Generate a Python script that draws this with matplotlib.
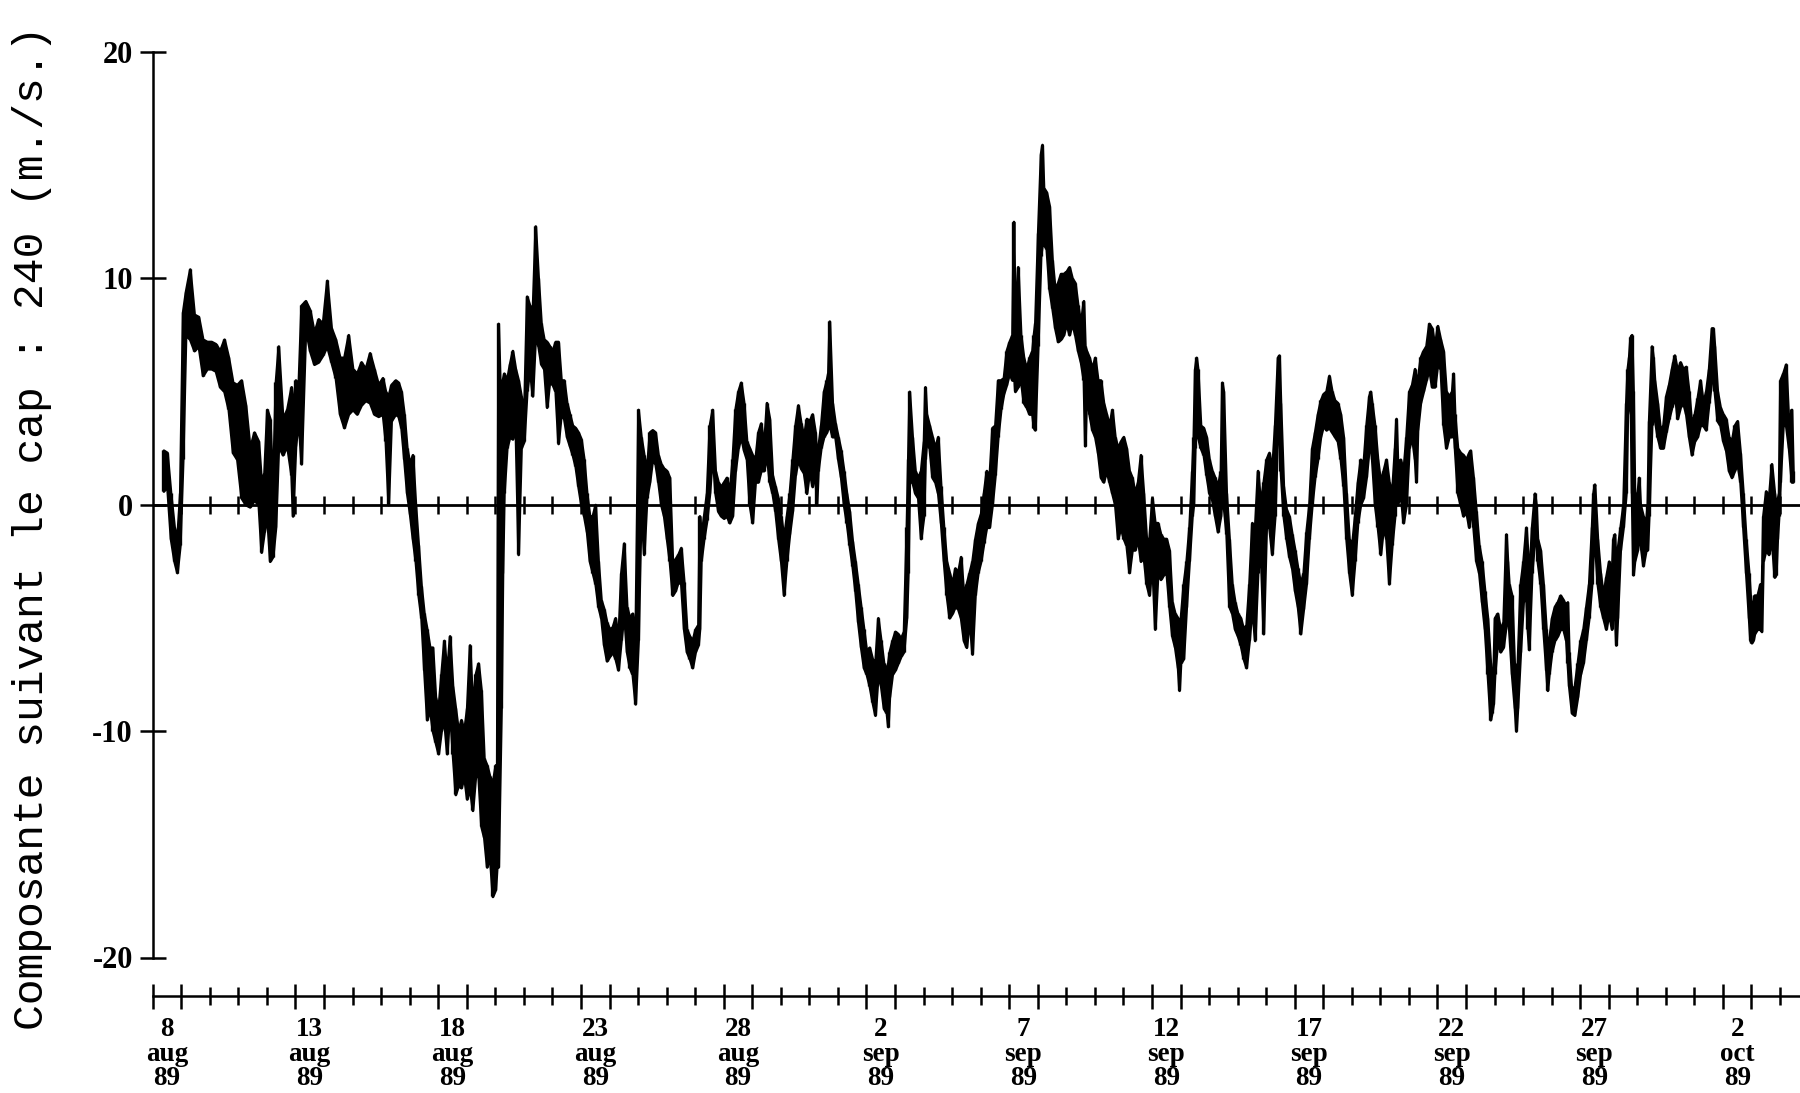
import datetime as dt
import matplotlib
matplotlib.use("Agg")
import matplotlib.pyplot as plt
from matplotlib.transforms import blended_transform_factory

# time in days since 8 aug 1989 00h, with the high / low envelope of the
# wind component (m/s)
day = [
    0.375, 0.5, 0.625, 0.75, 0.85, 0.95, 1.05, 1.15, 1.3, 1.45,
    1.6, 1.75, 1.9, 2.05, 2.2, 2.35, 2.5, 2.65, 2.8, 2.95,
    3.1, 3.25, 3.4, 3.55, 3.7, 3.8, 3.9, 4.0, 4.1, 4.2,
    4.3, 4.4, 4.55, 4.7, 4.85, 4.9, 5.0, 5.1, 5.2, 5.35,
    5.5, 5.65, 5.8, 5.95, 6.1, 6.25, 6.4, 6.55, 6.7, 6.85,
    7.0, 7.15, 7.3, 7.45, 7.6, 7.75, 7.9, 8.05, 8.15, 8.25,
    8.35, 8.5, 8.6, 8.7, 8.8, 8.9, 9.0, 9.1, 9.2, 9.3,
    9.4, 9.5, 9.6, 9.7, 9.8, 9.9, 10.0, 10.1, 10.2, 10.3,
    10.4, 10.5, 10.6, 10.7, 10.8, 10.9, 11.0, 11.1, 11.2, 11.3,
    11.4, 11.5, 11.6, 11.7, 11.8, 11.9, 12.0, 12.05, 12.1, 12.2,
    12.25, 12.3, 12.4, 12.5, 12.6, 12.7, 12.8, 12.9, 13.0, 13.1,
    13.2, 13.3, 13.4, 13.5, 13.6, 13.7, 13.8, 13.9, 14.0, 14.1,
    14.2, 14.3, 14.4, 14.5, 14.6, 14.7, 14.8, 14.9, 15.0, 15.1,
    15.2, 15.3, 15.4, 15.5, 15.6, 15.7, 15.8, 15.9, 16.0, 16.1,
    16.2, 16.3, 16.4, 16.5, 16.6, 16.7, 16.8, 16.9, 17.0, 17.1,
    17.2, 17.3, 17.4, 17.5, 17.6, 17.7, 17.8, 17.9, 18.0, 18.1,
    18.2, 18.3, 18.4, 18.5, 18.6, 18.7, 18.8, 18.9, 19.0, 19.1,
    19.15, 19.2, 19.3, 19.4, 19.5, 19.6, 19.7, 19.8, 19.9, 20.0,
    20.1, 20.2, 20.3, 20.4, 20.5, 20.6, 20.7, 20.8, 20.9, 21.0,
    21.1, 21.2, 21.3, 21.4, 21.5, 21.6, 21.7, 21.8, 21.9, 22.0,
    22.1, 22.2, 22.3, 22.4, 22.5, 22.6, 22.7, 22.8, 22.9, 23.0,
    23.1, 23.2, 23.25, 23.3, 23.4, 23.5, 23.6, 23.65, 23.7, 23.8,
    23.9, 24.0, 24.1, 24.2, 24.3, 24.4, 24.5, 24.6, 24.7, 24.8,
    24.9, 25.0, 25.1, 25.2, 25.3, 25.4, 25.5, 25.6, 25.7, 25.75,
    25.8, 25.9, 26.0, 26.1, 26.2, 26.3, 26.4, 26.45, 26.5, 26.6,
    26.7, 26.8, 26.9, 27.0, 27.05, 27.1, 27.2, 27.3, 27.4, 27.5,
    27.6, 27.7, 27.8, 27.9, 28.0, 28.1, 28.2, 28.3, 28.4, 28.5,
    28.6, 28.7, 28.8, 28.9, 29.0, 29.1, 29.2, 29.3, 29.4, 29.5,
    29.6, 29.7, 29.8, 29.9, 30.0, 30.1, 30.15, 30.2, 30.3, 30.4,
    30.5, 30.6, 30.7, 30.8, 30.85, 30.9, 31.0, 31.1, 31.15, 31.2,
    31.3, 31.4, 31.5, 31.6, 31.7, 31.8, 31.9, 32.0, 32.1, 32.2,
    32.3, 32.4, 32.5, 32.6, 32.65, 32.7, 32.8, 32.9, 33.0, 33.1,
    33.2, 33.3, 33.4, 33.5, 33.6, 33.7, 33.8, 33.9, 34.0, 34.1,
    34.2, 34.3, 34.4, 34.5, 34.6, 34.7, 34.8, 34.9, 35.0, 35.1,
    35.2, 35.3, 35.4, 35.5, 35.6, 35.7, 35.8, 35.9, 35.95, 36.0,
    36.1, 36.2, 36.3, 36.4, 36.45, 36.5, 36.55, 36.6, 36.7, 36.8,
    36.9, 37.0, 37.1, 37.2, 37.3, 37.4, 37.45, 37.5, 37.6, 37.7,
    37.8, 37.9, 38.0, 38.1, 38.2, 38.3, 38.4, 38.5, 38.6, 38.7,
    38.8, 38.9, 39.0, 39.1, 39.2, 39.3, 39.4, 39.45, 39.5, 39.6,
    39.7, 39.8, 39.9, 40.0, 40.1, 40.2, 40.3, 40.4, 40.5, 40.6,
    40.7, 40.8, 40.9, 41.0, 41.1, 41.2, 41.3, 41.4, 41.5, 41.6,
    41.7, 41.8, 41.9, 42.0, 42.1, 42.2, 42.3, 42.4, 42.5, 42.6,
    42.65, 42.7, 42.8, 42.9, 43.0, 43.1, 43.2, 43.3, 43.4, 43.5,
    43.55, 43.6, 43.7, 43.8, 43.9, 44.0, 44.1, 44.2, 44.25, 44.3,
    44.4, 44.5, 44.6, 44.7, 44.8, 44.9, 45.0, 45.1, 45.2, 45.3,
    45.4, 45.5, 45.55, 45.6, 45.7, 45.8, 45.9, 46.0, 46.1, 46.15,
    46.25, 46.35, 46.45, 46.55, 46.65, 46.75, 46.85, 46.9, 46.95, 47.0,
    47.1, 47.2, 47.3, 47.4, 47.45, 47.5, 47.6, 47.7, 47.75, 47.8,
    47.9, 48.0, 48.1, 48.15, 48.2, 48.3, 48.4, 48.45, 48.5, 48.6,
    48.7, 48.8, 48.85, 48.9, 49.0, 49.1, 49.2, 49.3, 49.4, 49.5,
    49.55, 49.6, 49.7, 49.8, 49.9, 50.0, 50.1, 50.2, 50.3, 50.4,
    50.45, 50.5, 50.6, 50.7, 50.8, 50.9, 51.0, 51.1, 51.15, 51.2,
    51.25, 51.3, 51.4, 51.5, 51.6, 51.65, 51.7, 51.75, 51.8, 51.85,
    51.9, 52.0, 52.05, 52.1, 52.2, 52.3, 52.35, 52.4, 52.5, 52.55,
    52.6, 52.7, 52.8, 52.9, 53.0, 53.1, 53.2, 53.25, 53.3, 53.4,
    53.5, 53.6, 53.7, 53.8, 53.9, 54.0, 54.1, 54.2, 54.3, 54.4,
    54.5, 54.6, 54.65, 54.7, 54.8, 54.9, 55.0, 55.1, 55.2, 55.3,
    55.4, 55.5, 55.6, 55.7, 55.8, 55.9, 55.95, 56.0, 56.05, 56.1,
    56.2, 56.3, 56.35, 56.4, 56.5, 56.6, 56.7, 56.8, 56.85, 56.9,
    56.95, 57.0, 57.1, 57.2, 57.3, 57.4, 57.45,
]
v_high = [
    2.4, 2.3, 0.5, -1.0, -1.5, 0.5, 8.5, 9.4, 10.4, 8.4,
    8.3, 7.3, 7.2, 7.2, 7.1, 6.8, 7.3, 6.5, 5.4, 5.3,
    5.5, 4.4, 2.5, 3.2, 2.8, 1.0, 1.4, 4.2, 3.8, 0.5,
    5.4, 7.0, 3.8, 4.2, 5.2, 4.0, 5.5, 5.3, 8.8, 9.0,
    8.6, 7.6, 8.2, 8.0, 9.9, 7.8, 7.3, 6.5, 6.5, 7.5,
    6.0, 5.8, 6.3, 6.0, 6.7, 6.0, 5.3, 5.6, 5.0, 4.8,
    5.3, 5.5, 5.4, 5.0, 4.0, 2.5, 1.8, 2.2, 0.0, -1.8,
    -3.6, -4.8, -5.5, -6.3, -6.3, -8.5, -9.0, -7.5, -6.0, -7.5,
    -5.8, -8.0, -9.0, -10.0, -9.5, -10.0, -9.0, -6.2, -9.0, -7.5,
    -7.0, -8.2, -11.2, -11.5, -12.0, -12.3, -11.5, -12.0, 8.0, 3.5,
    5.5, 5.8, 5.5, 6.2, 6.8, 6.0, 5.5, 4.8, 4.0, 9.2,
    8.8, 8.5, 12.3, 10.0, 8.0, 7.3, 7.2, 7.0, 6.8, 7.2,
    7.2, 5.5, 5.5, 4.5, 4.0, 3.5, 3.4, 3.2, 2.9, 2.0,
    0.5, -0.5, -0.5, 0.0, -2.5, -4.2, -4.6, -5.2, -5.5, -5.4,
    -5.0, -6.0, -3.0, -1.7, -4.5, -5.0, -4.8, -6.0, 4.2, 3.0,
    2.2, 1.5, 3.2, 3.3, 3.2, 2.2, 1.8, 1.6, 1.5, 1.2,
    -2.5, -2.4, -2.2, -1.9, -3.4, -5.5, -5.8, -6.0, -5.5, -5.3,
    -0.5, -1.5, -0.5, 0.5, 3.5, 4.2, 1.5, 1.0, 0.8, 1.0,
    1.2, 0.5, 2.0, 4.2, 5.0, 5.4, 4.5, 2.8, 2.5, 2.2,
    2.0, 3.2, 3.6, 2.5, 4.5, 3.8, 1.3, 0.8, 0.3, -0.5,
    -1.5, -0.5, 0.5, 2.0, 3.5, 4.4, 3.6, 3.0, 3.8, 3.7,
    4.0, 3.2, 2.0, 2.5, 3.5, 5.0, 5.5, 5.8, 8.1, 4.5,
    3.6, 3.0, 2.4, 1.5, 0.5, -0.3, -1.6, -2.5, -3.5, -4.5,
    -5.5, -6.5, -6.3, -6.8, -7.0, -5.0, -6.0, -7.0, -7.3, -7.0,
    -6.5, -6.0, -5.6, -5.7, -5.9, -5.6, -1.0, 2.0, 5.0, 3.0,
    1.5, 1.2, 1.5, 2.8, 5.2, 4.0, 3.5, 3.0, 2.5, 3.0,
    0.8, -1.0, -2.5, -3.0, -3.5, -2.8, -3.0, -2.3, -4.0, -3.5,
    -3.0, -2.5, -1.5, -0.8, -0.4, 0.5, 1.5, 1.2, 3.4, 3.5,
    5.5, 5.5, 5.6, 6.8, 7.2, 7.5, 12.5, 7.8, 10.5, 7.5,
    6.5, 6.0, 6.5, 6.8, 7.5, 8.0, 12.0, 15.5, 15.9, 14.0,
    13.8, 13.2, 10.8, 9.5, 9.8, 10.2, 10.2, 10.3, 10.5, 10.0,
    9.8, 8.8, 8.0, 9.0, 7.0, 6.8, 6.5, 6.0, 6.5, 5.5,
    5.5, 4.5, 4.0, 3.5, 4.2, 3.0, 2.5, 2.8, 3.0, 2.5,
    1.5, 1.2, 0.5, 1.0, 2.2, 0.5, -1.5, -1.5, 0.3, -0.8,
    -0.8, -1.3, -1.5, -1.5, -2.0, -4.3, -4.8, -5.0, -5.5, -5.0,
    -3.5, -2.5, -1.0, 1.5, 3.0, 6.0, 6.5, 6.0, 3.5, 3.4,
    3.0, 2.0, 1.5, 1.2, 0.8, 1.5, 5.4, 5.0, 0.5, -1.5,
    -3.5, -4.3, -4.8, -5.0, -5.5, -5.3, -3.5, -0.8, -1.0, 1.5,
    0.0, 1.0, 2.0, 2.3, 1.5, 3.5, 6.5, 6.6, 4.5, 0.8,
    -0.2, -0.5, -1.3, -2.0, -2.8, -3.5, -3.0, -1.2, 0.0, 2.5,
    3.2, 4.0, 4.6, 4.9, 5.0, 5.7, 5.0, 4.6, 4.5, 4.0,
    3.0, 0.5, -1.5, -1.8, -0.5, 1.0, 2.0, 1.8, 3.5, 4.8,
    5.0, 4.5, 3.5, 2.0, 1.0, 1.5, 2.0, 1.0, 0.5, 2.5,
    3.8, 1.8, 2.0, 1.5, 3.0, 5.0, 5.3, 6.0, 5.5, 5.5,
    6.5, 6.8, 7.0, 8.0, 7.8, 7.0, 7.9, 7.3, 6.8, 5.0,
    4.8, 5.0, 5.8, 4.0, 2.5, 2.3, 2.2, 2.0, 2.3, 2.4,
    1.2, -0.3, -1.8, -2.5, -3.8, -5.0, -7.0, -8.0, -7.5, -5.0,
    -4.8, -5.5, -5.2, -1.3, -2.5, -3.5, -4.0, -7.5, -8.5, -7.0,
    -3.5, -2.5, -1.0, -2.0, -3.5, -1.0, 0.5, 0.0, -1.5, -2.0,
    -3.5, -5.5, -6.5, -6.0, -5.0, -4.5, -4.3, -4.0, -4.2, -4.5,
    -4.3, -6.5, -8.3, -8.0, -7.0, -6.0, -5.5, -4.5, -3.5, -1.0,
    0.5, 0.9, -1.5, -3.0, -4.0, -3.2, -2.5, -3.0, -1.5, -1.3,
    -3.0, -2.0, -1.0, 0.0, 4.5, 6.0, 6.5, 7.4, 7.5, 5.0,
    0.5, 0.5, 1.2, 0.0, -0.5, -0.8, 0.0, 3.7, 7.0, 6.5,
    5.5, 4.5, 3.3, 3.5, 4.8, 5.3, 6.0, 6.3, 6.6, 5.9,
    6.3, 6.0, 6.1, 5.0, 3.5, 4.0, 4.7, 5.5, 4.5, 5.0,
    6.0, 7.8, 7.8, 7.0, 5.0, 4.3, 4.0, 3.8, 3.0, 2.8,
    3.5, 3.7, 2.3, 0.5, -1.5, -3.0, -4.0, -4.5, -4.5, -4.0,
    -4.0, -3.5, -3.8, -0.5, 0.6, 0.3, 1.8, 0.5, 0.0, 0.2,
    0.5, 5.5, 5.8, 6.2, 3.5, 4.2, 1.5,
]
v_low = [
    0.6, 0.8, -1.5, -2.5, -3.0, -1.8, 2.0, 7.5, 7.3, 6.8,
    7.0, 5.7, 6.0, 6.0, 5.9, 5.2, 5.0, 4.2, 2.3, 2.0,
    0.3, 0.0, -0.1, 0.2, 0.0, -2.1, -1.2, -0.5, -2.5, -2.3,
    -1.0, 2.6, 2.2, 2.6, 1.3, -0.5, 2.6, 3.8, 1.8, 7.8,
    6.8, 6.2, 6.3, 6.6, 7.0, 6.3, 5.6, 4.0, 3.4, 4.0,
    4.2, 4.0, 4.4, 4.6, 4.5, 4.0, 3.9, 4.0, 2.8, 0.0,
    3.7, 4.0, 3.9, 3.4, 2.0, 0.5, -0.4, -1.5, -2.5, -4.0,
    -5.0, -7.3, -9.5, -9.0, -10.0, -10.5, -11.0, -10.0, -9.5, -11.0,
    -9.0, -11.0, -12.8, -12.4, -12.5, -12.0, -13.0, -12.5, -13.5, -12.0,
    -12.0, -14.2, -14.7, -16.0, -15.5, -17.3, -17.0, -16.0, -16.0, -9.0,
    -3.0, 0.5, 2.5, 3.0, 2.9, 3.5, -2.2, 2.5, 2.8, 5.0,
    6.0, 4.8, 7.5, 7.0, 6.2, 6.0, 4.3, 5.5, 5.3, 5.0,
    2.7, 4.0, 3.8, 3.0, 2.6, 2.2, 1.7, 0.8, 0.0, -0.5,
    -1.2, -2.5, -3.0, -3.5, -4.5, -5.0, -6.2, -6.9, -6.7, -6.5,
    -6.8, -7.3, -6.0, -4.8, -6.5, -7.2, -7.5, -8.8, -6.0, 0.0,
    -2.2, 0.3, 1.0, 2.0, 1.8, 1.0, 0.0, -0.5, -1.5, -2.5,
    -4.0, -3.8, -3.4, -3.5, -5.5, -6.5, -6.8, -7.2, -6.5, -6.2,
    -5.5, -2.5, -1.5, -0.7, 0.5, 2.3, 0.5, -0.3, -0.5, -0.6,
    -0.5, -0.8, -0.5, 1.5, 2.5, 3.0, 2.4, 2.0, 0.0, -0.8,
    1.0, 1.0, 1.5, 1.5, 2.2, 1.0, 0.5, -0.3, -1.5, -2.5,
    -4.0, -2.5, -1.3, -0.3, 1.3, 2.0, 1.6, 1.4, 0.5, 1.5,
    0.8, 1.5, 0.0, 1.5, 2.5, 3.0, 3.2, 3.4, 3.5, 3.0,
    3.0, 2.0, 1.2, 0.0, -0.8, -1.8, -2.7, -3.8, -5.2, -6.3,
    -7.2, -7.5, -8.0, -8.7, -9.3, -7.5, -8.0, -9.0, -9.2, -9.8,
    -8.5, -7.5, -7.3, -7.0, -6.7, -6.5, -5.0, -3.0, 1.0, 1.0,
    0.5, 0.3, -1.5, -0.5, 2.0, 2.8, 2.5, 1.2, 1.0, 0.5,
    -0.8, -2.5, -4.0, -5.0, -4.8, -4.5, -4.6, -5.0, -6.0, -6.3,
    -5.0, -6.6, -4.0, -3.0, -2.5, -1.7, -1.0, -1.0, 0.0, 1.3,
    3.0, 4.2, 4.9, 5.3, 5.8, 5.5, 6.0, 5.0, 5.2, 5.5,
    4.5, 4.3, 4.0, 4.0, 3.4, 3.3, 7.0, 11.0, 11.5, 11.5,
    11.3, 9.5, 8.7, 7.8, 7.2, 7.3, 7.5, 8.0, 7.5, 8.0,
    7.5, 6.8, 6.3, 5.5, 2.6, 5.0, 4.0, 3.3, 3.0, 2.3,
    1.2, 1.0, 1.5, 1.0, 0.5, 0.0, -1.5, -1.0, -1.5, -1.8,
    -3.0, -2.0, -2.0, -1.5, -2.5, -2.3, -3.5, -4.0, -2.5, -5.5,
    -3.0, -3.3, -3.1, -3.0, -4.5, -5.8, -6.3, -7.2, -8.2, -7.0,
    -6.8, -4.5, -2.5, -0.5, 0.0, 2.5, 4.0, 3.0, 2.5, 2.2,
    1.3, 0.5, 0.2, -0.5, -1.2, -0.5, 0.5, 0.0, -1.3, -4.5,
    -4.8, -5.5, -5.8, -6.2, -6.8, -7.2, -6.0, -4.5, -6.0, -3.0,
    -2.0, -5.7, -1.0, -1.0, -2.2, -0.5, 3.5, 4.0, 1.5, -0.5,
    -1.5, -2.3, -2.8, -3.8, -4.5, -5.7, -4.6, -3.5, -1.5, 0.0,
    1.2, 2.0, 3.0, 3.5, 3.3, 3.4, 3.2, 3.0, 2.8, 2.0,
    0.8, -1.5, -3.0, -4.0, -2.5, -0.8, 0.0, 0.3, 1.2, 2.5,
    2.8, 2.0, 0.0, -1.0, -2.2, -1.0, -1.5, -3.5, -1.8, -0.5,
    0.5, 0.0, 0.5, -0.8, 0.0, 2.5, 3.0, 2.0, 1.0, 3.3,
    4.5, 5.0, 5.5, 6.0, 5.2, 5.2, 6.2, 6.0, 3.5, 2.5,
    3.0, 3.0, 3.5, 2.5, 0.5, 0.0, -0.5, -0.3, -1.0, 0.0,
    -1.0, -2.5, -3.0, -4.3, -5.5, -7.5, -9.5, -9.2, -8.8, -7.5,
    -6.0, -6.5, -6.3, -5.3, -4.5, -5.5, -7.5, -9.0, -10.0, -9.0,
    -6.5, -4.3, -4.0, -5.5, -6.4, -3.0, -1.5, -1.2, -2.5, -3.5,
    -5.5, -7.3, -8.2, -7.5, -6.5, -6.0, -5.8, -5.5, -5.5, -6.0,
    -7.0, -8.0, -9.2, -9.3, -8.5, -7.5, -7.0, -6.0, -5.0, -3.5,
    -2.0, -1.5, -3.5, -4.5, -5.0, -5.5, -4.8, -5.5, -4.5, -4.5,
    -6.2, -5.0, -2.0, -1.0, 0.5, 4.0, 4.5, 5.5, 0.5, -3.1,
    -2.5, -2.0, -1.0, -1.7, -2.7, -2.0, -2.0, -0.5, 3.5, 4.0,
    3.8, 3.0, 2.5, 2.5, 3.2, 3.8, 4.3, 4.5, 5.0, 3.8,
    4.3, 4.5, 4.0, 3.0, 2.2, 2.8, 3.0, 3.5, 3.5, 3.3,
    4.5, 5.5, 6.0, 5.0, 3.7, 3.5, 2.8, 2.4, 1.5, 1.2,
    1.5, 1.8, 1.0, -1.0, -3.0, -5.0, -6.0, -6.1, -6.0, -5.7,
    -5.5, -5.5, -5.6, -2.5, -2.0, -2.2, -1.5, -3.2, -3.1, -1.5,
    -0.5, 1.0, 3.5, 3.5, 2.5, 1.0, 1.0,
]

y_ticks = [-20, -10, 0, 10, 20]
start_date = dt.date(1989, 8, 8)
n_days = 58
label_days = list(range(0, n_days, 5))

px_per_day = 28.55
x_left_px, y_top_px, y_bot_px = 152.7, 51.7, 957.5

fig = plt.figure(figsize=(18, 10.93), dpi=100)
ax = fig.add_axes([x_left_px / 1800, 1 - y_bot_px / 1093,
                   1 - x_left_px / 1800, (y_bot_px - y_top_px) / 1093])
x_max = (1800 - x_left_px) / px_per_day
ax.set_xlim(0, x_max)
ax.set_ylim(-20, 20)

# the series
ax.fill_between(day, v_low, v_high, color="black", lw=2.0)
ax.vlines(day, v_low, v_high, color="black", lw=2.4)

# zero line with a tick every day
ax.axhline(0, color="black", lw=2.0)
ax.plot(range(1, n_days), [0] * (n_days - 1), ls="none", marker="|",
        ms=13, mew=1.8, color="black")

for s in ("top", "right"):
    ax.spines[s].set_visible(False)
ax.spines["left"].set_bounds(-20, 20)
ax.spines["left"].set_linewidth(1.8)
ax.spines["bottom"].set_position(("outward", 27.7))
ax.spines["bottom"].set_linewidth(1.8)

ax.set_yticks(y_ticks)
ax.set_yticklabels([str(t) for t in y_ticks])
ax.tick_params(axis="y", direction="inout", length=18.7, width=1.8, pad=5,
               labelsize=22)
for lbl in ax.get_yticklabels():
    lbl.set_fontfamily("Liberation Serif")
    lbl.set_fontweight("bold")

# tall ticks bracket the labelled days, small ticks every other day
tall = sorted(set(label_days) | {d + 1 for d in label_days})
ax.set_xticks(tall)
ax.set_xticks([d for d in range(n_days) if d not in tall], minor=True)
ax.tick_params(axis="x", which="major", direction="inout", length=18,
               width=1.8, labelbottom=False)
ax.tick_params(axis="x", which="minor", direction="inout", length=13,
               width=1.8)

trans = blended_transform_factory(ax.transData, fig.transFigure)
for d in label_days:
    date = start_date + dt.timedelta(days=d)
    ax.text(d + 0.5, 1 - 1091 / 1093,
            f"{date.day}\n{date.strftime('%b').lower()}\n{date:%y}",
            transform=trans, ha="center", va="bottom", fontsize=19.5,
            fontweight="bold", family="Liberation Serif", linespacing=0.97,
            clip_on=False)

fig.text(32 / 1800, 1 - 1030 / 1093, "Composante suivant le cap : 240 (m./s.)",
         rotation=90, ha="center", va="bottom", family="Liberation Mono",
         fontsize=31)

fig.savefig("out.png", dpi=100, facecolor="white")
